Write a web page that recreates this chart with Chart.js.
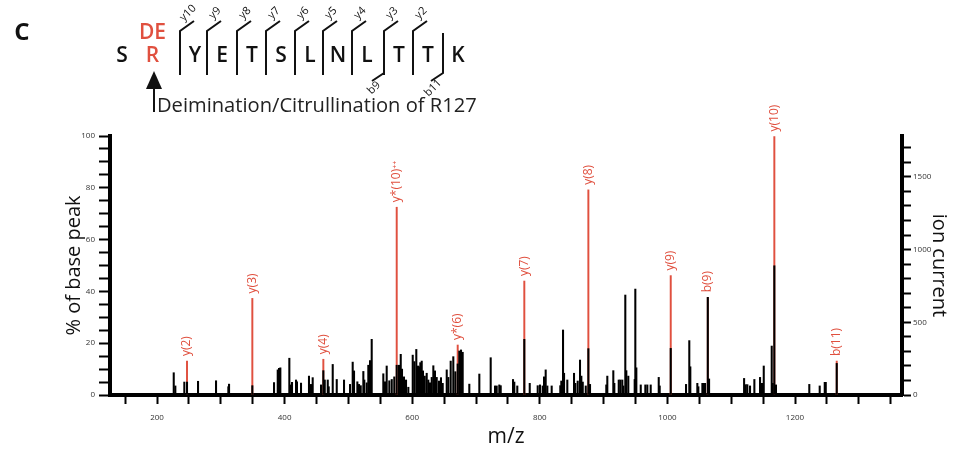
<!DOCTYPE html>
<html>
<head>
<meta charset="utf-8">
<script src="https://cdn.jsdelivr.net/npm/chart.js@4.4.1/dist/chart.umd.min.js"></script>
<style>
  body { margin: 0; background: #fff; }
  #wrap { position: relative; width: 964px; height: 455px; }
</style>
</head>
<body>
<div id="wrap"><canvas id="spectrum" width="964" height="455"></canvas></div>
<script>
// all observed peaks (black): m/z and % of base peak
const peakMz = [
  226.2, 228.7, 242.8, 247.0, 264.3, 292.5, 311.8, 312.9, 349.4, 383.4,
  389.2, 391.2, 393.3, 407.4, 408.9, 411.6, 417.9, 419.4, 425.7, 438.2,
  441.4, 444.0, 457.1, 460.7, 462.9, 467.6, 469.1, 475.4, 481.7, 493.1,
  502.5, 506.7, 508.8, 514.0, 516.6, 519.3, 523.4, 524.9, 528.7, 531.2,
  533.9, 536.5, 554.7, 557.4, 560.0, 564.1, 567.9, 571.9, 575.7, 579.3,
  582.0, 584.0, 587.1, 590.3, 593.9, 600.8, 603.3, 606.4, 609.1, 610.7,
  612.7, 614.9, 616.9, 619.6, 622.7, 625.2, 627.9, 630.6, 633.1, 635.7,
  638.4, 642.0, 645.1, 647.8, 654.1, 656.6, 660.3, 664.4, 667.6, 671.3,
  673.8, 676.5, 679.1, 689.5, 705.2, 723.0, 729.8, 732.4, 736.5, 738.7,
  758.0, 760.0, 764.7, 775.7, 784.2, 796.7, 800.3, 804.5, 806.6, 809.2,
  811.8, 818.6, 832.1, 833.7, 836.4, 838.0, 843.1, 853.6, 855.7, 859.4,
  863.0, 865.1, 867.3, 872.0, 876.1, 878.7, 904.2, 905.8, 915.2, 916.8,
  923.7, 926.2, 929.3, 930.9, 934.0, 935.6, 938.7, 948.7, 949.7, 951.3,
  958.2, 965.4, 968.5, 973.8, 986.4, 987.9, 1005.2, 1029.2, 1034.3, 1035.9,
  1046.9, 1048.5, 1054.8, 1057.0, 1059.0, 1063.3, 1065.3, 1120.2, 1122.8, 1125.3,
  1129.5, 1136.3, 1145.2, 1147.2, 1149.4, 1151.0, 1163.5, 1165.1, 1167.6, 1170.2,
  1222.4, 1238.7, 1246.6, 1248.2, 1265.4
];
const peakPct = [
  8.6, 3.5, 5.0, 5.0, 5.3, 5.5, 3.2, 4.2, 3.6, 4.8,
  9.7, 10.3, 10.5, 14.2, 3.9, 4.9, 5.8, 5.1, 4.6, 7.3,
  4.1, 6.7, 3.9, 9.4, 5.8, 5.8, 3.2, 11.8, 6.0, 5.8,
  4.1, 12.7, 9.3, 5.1, 4.1, 3.6, 9.1, 5.8, 4.7, 11.5,
  13.3, 21.5, 8.2, 5.1, 11.2, 5.5, 6.0, 7.0, 11.5, 11.5,
  15.7, 10.0, 7.0, 5.8, 3.0, 15.4, 12.9, 17.6, 11.2, 10.9,
  12.5, 13.1, 9.3, 7.3, 8.4, 5.8, 4.7, 6.8, 11.3, 9.3,
  6.8, 5.4, 6.7, 4.5, 9.7, 6.8, 13.1, 14.8, 9.0, 12.0,
  17.0, 17.4, 16.5, 4.2, 8.1, 14.4, 3.5, 3.5, 3.9, 3.6,
  6.0, 5.0, 3.5, 21.5, 4.5, 3.6, 3.9, 3.5, 7.0, 9.7,
  3.5, 3.5, 3.6, 5.4, 25.1, 8.4, 5.8, 8.4, 4.5, 5.4,
  13.5, 7.3, 5.0, 3.5, 17.9, 4.1, 3.9, 7.3, 9.4, 4.5,
  5.8, 5.8, 5.8, 3.5, 38.6, 9.4, 7.3, 6.0, 40.9, 10.5,
  3.9, 3.9, 3.9, 3.9, 6.8, 3.5, 18.0, 4.1, 21.0, 10.9,
  4.5, 3.2, 4.5, 4.5, 4.5, 37.7, 6.2, 6.4, 4.0, 4.0,
  3.5, 6.0, 6.8, 4.5, 4.5, 11.2, 18.9, 4.5, 49.9, 3.9,
  4.1, 3.5, 4.9, 4.9, 12.2
];

// assigned fragment ions (red)
const ionNames = ['y(2)', 'y(3)', 'y(4)', 'y*(10)\u207A\u207A', 'y*(6)', 'y(7)', 'y(8)', 'y(9)', 'b(9)', 'y(10)', 'b(11)'];
const ionMz = [247.0, 349.4, 460.7, 575.7, 671.3, 775.7, 876.1, 1005.2, 1063.3, 1167.6, 1265.4];
const ionPct = [13.1, 37.3, 13.8, 72.5, 19.3, 44.0, 79.2, 46.1, 37.7, 99.8, 13.1];

// axis ticks
const xTicks = [150, 200, 250, 300, 350, 400, 450, 500, 550, 600, 650, 700, 750, 800, 850, 900, 950, 1000, 1050, 1100, 1150, 1200, 1250, 1300, 1350];
const xTickLabels = [200, 400, 600, 800, 1000, 1200];
const pctTicks = [0, 5, 10, 15, 20, 25, 30, 35, 40, 45, 50, 55, 60, 65, 70, 75, 80, 85, 90, 95, 100];
const pctTickLabels = [0, 20, 40, 60, 80, 100];
const ionTicks = [0, 100, 200, 300, 400, 500, 600, 700, 800, 900, 1000, 1100, 1200, 1300, 1400, 1500, 1600, 1700];
const ionTickLabels = [0, 500, 1000, 1500];
const ionCurrentMax = 1781;

// peptide and its fragment cleavages (cut after residue number)
const sequence = ['S', 'R', 'Y', 'E', 'T', 'S', 'L', 'N', 'L', 'T', 'T', 'K'];
const yCutNames = ['y10', 'y9', 'y8', 'y7', 'y6', 'y5', 'y4', 'y3', 'y2'];
const yCutAfter = [2, 3, 4, 5, 6, 7, 8, 9, 10];
const bCutNames = ['b9', 'b11'];
const bCutAfter = [9, 11];

const RED = '#e0503f';

const ionLabels = {
  id: 'ionLabels',
  afterDatasetsDraw(chart) {
    const { ctx, scales: { x, y } } = chart;
    ctx.save();
    ctx.fillStyle = RED;
    ctx.font = '12px "Open Sans"';
    ctx.textAlign = 'left';
    ctx.textBaseline = 'middle';
    ionNames.forEach((name, i) => {
      const px = x.getPixelForValue(ionMz[i]);
      const py = y.getPixelForValue(ionPct[i]);
      ctx.save();
      ctx.translate(px, py - 5);
      ctx.rotate(-Math.PI / 2);
      ctx.fillText(name, 0, 0);
      ctx.restore();
    });
    ctx.restore();
  }
};

const header = {
  id: 'header',
  afterDraw(chart) {
    const ctx = chart.ctx;
    ctx.save();
    ctx.textAlign = 'center';
    ctx.textBaseline = 'middle';
    ctx.fillStyle = '#111';
    ctx.font = 'bold 24px "Open Sans"';
    ctx.fillText('C', 22, 33);

    const letterX = [122, 152.5, 195, 222, 252, 281, 310, 338, 367, 399, 428, 458];
    ctx.font = '600 21px "Open Sans"';
    sequence.forEach((aa, i) => {
      ctx.fillStyle = i === 1 ? RED : '#111';
      ctx.fillText(aa, letterX[i], 56);
    });
    ctx.fillStyle = RED;
    ctx.fillText('DE', 152.5, 33);

    // cleavage brackets
    ctx.strokeStyle = '#111';
    ctx.fillStyle = '#111';
    ctx.lineWidth = 2;
    ctx.font = '11px "Open Sans"';
    const cutX = r => letterX[r] - 15;
    yCutAfter.forEach((r, i) => {
      const bx = cutX(r);
      ctx.beginPath();
      ctx.moveTo(bx + 14, 21);
      ctx.lineTo(bx, 31);
      ctx.lineTo(bx, 75);
      ctx.stroke();
      ctx.save();
      ctx.translate(bx + 8, 13);
      ctx.rotate(-Math.PI / 4);
      ctx.fillText(yCutNames[i], 0, 0);
      ctx.restore();
    });
    bCutAfter.forEach((r, i) => {
      const bx = cutX(r);
      ctx.beginPath();
      ctx.moveTo(bx, 33);
      ctx.lineTo(bx, 73);
      ctx.lineTo(bx - 12, 81);
      ctx.stroke();
      ctx.save();
      ctx.translate(bx - 10, 88);
      ctx.rotate(-Math.PI / 4);
      ctx.fillText(bCutNames[i], 0, 0);
      ctx.restore();
    });

    // arrow to the modified arginine
    ctx.beginPath();
    ctx.moveTo(154, 86);
    ctx.lineTo(154, 112);
    ctx.stroke();
    ctx.beginPath();
    ctx.moveTo(154, 71);
    ctx.lineTo(146, 89);
    ctx.lineTo(162, 89);
    ctx.closePath();
    ctx.fill();

    const note = 'Deimination/Citrullination of R127';
    ctx.font = '18px "Open Sans"';
    const w = ctx.measureText(note).width;
    ctx.font = (18 * 320 / w).toFixed(2) + 'px "Open Sans"';
    ctx.fillStyle = '#222';
    ctx.textAlign = 'left';
    ctx.textBaseline = 'alphabetic';
    ctx.fillText(note, 157, 112);
    ctx.restore();
  }
};

const tickFont = { family: 'Open Sans', size: 8 };
const titleFont = { family: 'Open Sans', size: 20 };

new Chart(document.getElementById('spectrum'), {
  type: 'bar',
  data: {
    datasets: [
      {
        label: 'peaks',
        data: peakMz.map((m, i) => ({ x: m, y: peakPct[i] })),
        backgroundColor: '#000',
        barThickness: 1.4,
        yAxisID: 'y'
      },
      {
        label: 'assigned ions',
        data: ionMz.map((m, i) => ({ x: m, y: ionPct[i] })),
        backgroundColor: RED,
        barThickness: 1.3,
        yAxisID: 'y'
      }
    ]
  },
  options: {
    responsive: false,
    animation: false,
    devicePixelRatio: 1,
    layout: { padding: { left: 62, right: 13, top: 136, bottom: 5 } },
    datasets: { bar: { grouped: false } },
    plugins: { legend: { display: false }, tooltip: { enabled: false } },
    scales: {
      x: {
        type: 'linear',
        min: 126.3,
        max: 1367.7,
        offset: false,
        afterBuildTicks: axis => { axis.ticks = xTicks.map(v => ({ value: v })); },
        afterFit: axis => { axis.height = 55; },
        grid: { offset: false, drawOnChartArea: false, color: '#000', tickLength: 9, tickWidth: 2 },
        border: { color: '#000', width: 4 },
        ticks: {
          autoSkip: false, maxRotation: 0, padding: 9, font: tickFont, color: '#333',
          callback: v => xTickLabels.includes(v) ? String(v) : ''
        },
        title: { display: true, text: 'm/z', font: { family: 'Open Sans', size: 21 }, color: '#111', padding: 0 }
      },
      y: {
        position: 'left',
        min: 0,
        max: 100,
        afterBuildTicks: axis => { axis.ticks = pctTicks.map(v => ({ value: v })); },
        afterFit: axis => { axis.width = 48; },
        grid: { drawOnChartArea: false, color: '#000', tickLength: 11, tickWidth: 2 },
        border: { color: '#000', width: 4 },
        ticks: {
          autoSkip: false, padding: 4, font: tickFont, color: '#333',
          callback: v => pctTickLabels.includes(v) ? String(v) : ''
        },
        title: { display: true, text: '% of base peak', font: titleFont, color: '#111', padding: 0 }
      },
      y2: {
        position: 'right',
        min: 0,
        max: ionCurrentMax,
        afterBuildTicks: axis => { axis.ticks = ionTicks.map(v => ({ value: v })); },
        afterFit: axis => { axis.width = 49; },
        grid: { drawOnChartArea: false, color: '#000', tickLength: 9, tickWidth: 2 },
        border: { color: '#000', width: 4 },
        ticks: {
          autoSkip: false, padding: 2, font: tickFont, color: '#333',
          callback: v => ionTickLabels.includes(v) ? String(v) : ''
        },
        title: { display: true, text: 'ion current', font: titleFont, color: '#111', padding: 0 }
      }
    }
  },
  plugins: [ionLabels, header]
});
</script>
</body>
</html>
